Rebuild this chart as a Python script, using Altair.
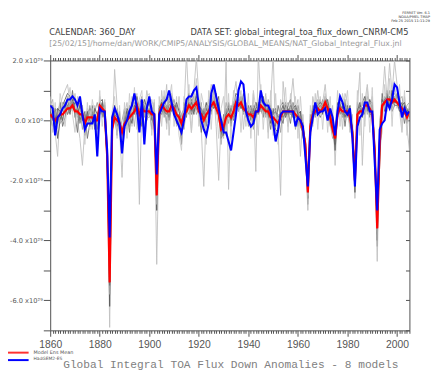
import altair as alt
import pandas as pd

years = list(range(1860, 2006))

# values in units of 1e28 (axis shows x10^29)
ens_mean = [2, 1, 0, 1, 2, 2, 3, 4, 4, 5,
            3, 3, 2, 2, -1, 1, 1, 1, 0, 0,
            5, 4, 3, -12, -54, -3, 1, 0, -1, -4,
            -1, 0, 1, 2, 3, 5, 2, 4, 3, 3,
            3, 2, 2, -25, 2, 5, 4, 3, 3, 5,
            4, 2, 1, -1, 2, 3, 5, 4, 5, 6,
            3, 2, 0, 2, 3, 5, 6, 4, 2, -3,
            -2, 1, 2, 1, 3, 6, 5, 6, 4, 3,
            2, 2, 1, 3, 3, 5, 4, 3, 3, 1,
            1, 0, -1, 1, 3, 3, 3, 3, 3, 2,
            1, 0, -3, -8, -24, -2, 2, 3, 4, 3,
            4, 6, 4, 1, -3, -6, 2, 4, 3, 3,
            3, 1, -4, -20, 2, 3, 3, 5, 5, 4,
            2, -10, -36, -8, 5, 6, 7, 7, 6, 7,
            6, 5, 4, 3, 1, 3]

hadgem = [5, 4, -5, 1, 2, 4, 5, 7, 7, 8,
          7, 5, 8, 2, -3, -1, -1, -1, 2, -12,
          4, 3, 3, -10, -39, 1, 4, 2, -1, -11,
          -2, 0, 3, 5, 9, 4, -4, 7, -8, 4,
          8, 3, 2, -18, 2, 4, 6, 7, 10, 6,
          2, 0, -2, -4, 0, 7, 8, 8, 10, 11,
          5, 0, -3, -5, -1, 9, 12, 8, 4, 0,
          -4, -4, -7, -10, -4, 2, 10, 13, 12, 3,
          0, -2, -1, 3, 3, 10, 6, 5, 5, 3,
          -1, -7, -3, 2, 3, 3, 3, 3, 3, -2,
          1, 0, -2, -12, -22, -4, 1, 6, 2, 3,
          3, 4, 0, 4, 1, -5, 3, 8, 6, 3,
          2, 4, -6, -22, -2, 1, 2, 6, 6, 3,
          3, -14, -30, -3, -1, 0, 6, 4, 7, 12,
          11, 6, 1, 4, 2, 3]

model_1 = [6, 3, -4, -12, 5, 8, 10, 12, 6, 3,
           9, 0, -6, -15, -2, 4, 2, -3, 5, -8,
           8, 2, 4, -14, -69, -6, 17, 5, -3, -19,
           2, 6, -2, 8, 4, 9, -28, 6, 2, 10,
           5, 7, 3, -48, -4, 10, 2, 12, -5, 9,
           6, -2, 8, -6, 3, 22, 5, -4, 10, 21,
           8, -3, -22, 4, 6, 12, 9, -2, -20, 0,
           -6, 20, -23, 3, 8, 13, 4, 10, -3, 6,
           4, -2, 9, -17, 22, 7, 2, 9, -4, 6,
           22, -6, -3, -25, 13, 4, -2, 6, 14, 3,
           7, -12, 2, -10, -30, -6, 8, 3, 10, 2,
           6, 12, 3, -2, 5, -15, 4, 8, -3, 9,
           6, -4, 2, -26, 5, 16, -15, 6, 12, 3,
           8, -12, -47, -10, 6, 18, 7, 19, 9, 20,
           12, 3, -4, 8, -2, -10]

model_2 = [4, 5, 2, -6, 0, 5, 7, 9, 8, 4,
           6, 5, 0, 3, -4, 2, 4, 3, -2, 1,
           6, 7, 2, -12, -62, -2, 3, -2, 1, -6,
           -3, 2, 4, 5, 8, 6, 2, 3, 7, 4,
           6, 0, 4, -30, 5, 3, 8, 4, 6, 7,
           2, 5, -2, -4, 5, 6, 8, 7, 3, 9,
           5, 4, 2, 6, 0, 8, 5, 7, 4, -6,
           -4, 3, 5, -2, 5, 9, 8, 4, 7, 2,
           5, 0, 3, 6, 4, 8, 6, 2, 5, -1,
           3, 4, -2, 5, 6, 2, 5, 7, 1, 4,
           3, -2, -4, -10, -26, 0, 4, 6, 2, 7,
           2, 8, 5, 3, -2, -8, 6, 2, 5, 1,
           4, 3, -5, -22, 4, 2, 6, 8, 3, 7,
           4, -9, -40, -5, 7, 5, 9, 4, 10, 6,
           8, 6, 2, 5, 4, 1]

model_3 = [1, -2, 3, 4, -1, 0, 4, 2, 6, 8,
           1, 6, 4, -3, 2, -2, 5, 0, 3, 6,
           2, 5, 1, -10, -58, -5, 4, 3, -4, 0,
           4, -3, 5, 0, 6, 3, 5, 8, 1, 6,
           2, 4, -1, -25, 3, 7, 1, 5, 0, 4,
           7, 3, 4, 2, -3, 4, 2, 6, 8, 2,
           4, 6, -3, 3, 7, 2, 8, 3, 6, -2,
           0, 4, -1, 5, 2, 6, 3, 8, 2, 5,
           -2, 4, -3, 2, 6, 3, 7, 4, 1, 5,
           -1, 3, 2, -4, 4, 6, 1, 4, 5, -3,
           5, 2, -6, -6, -22, -3, 5, 1, 6, 4,
           7, 3, 6, -1, -6, -5, 3, 6, 1, 5,
           1, 4, -3, -18, 6, 4, 2, 3, 8, 5,
           1, -11, -35, -12, 3, 8, 5, 10, 4, 8,
           5, 7, 8, 2, 5, 6]

model_4 = [-3, 4, -1, 2, 6, -2, 1, 7, 3, 10,
           2, -4, 6, 0, 3, -6, -1, 5, -3, 2,
           4, 1, 6, -11, -55, 0, 2, -5, 3, -8,
           1, 3, -4, 6, 2, 8, 4, -2, 5, 0,
           4, -3, 6, -20, 0, 6, 5, -1, 8, 3,
           5, -1, 2, -8, 6, 1, 9, 3, 6, 4,
           2, -4, 4, -2, 5, 3, 6, 9, 1, -5,
           2, -3, 6, 2, 0, 5, 7, 4, 9, 1,
           3, 5, -1, 6, 2, 4, 1, 6, 2, -3,
           4, -2, 5, 1, -1, 5, 3, -1, 6, 2,
           -2, 3, -1, -12, -20, 2, -1, 5, 3, 1,
           3, 5, 2, 4, -3, -3, 1, 5, 6, -2,
           5, 0, -2, -20, -1, 5, 4, 2, 6, 1,
           5, -8, -38, -3, 9, 3, 6, 8, 3, 5,
           9, 4, 6, -1, 3, 2]

model_5 = [8, -4, 6, -3, 9, 4, -2, 6, 11, 2,
           -4, 8, 2, 5, -8, 6, -3, 7, 2, -5,
           10, -2, 7, -13, -50, 3, 8, -6, 5, -10,
           6, -6, 9, -2, 11, -3, 7, 10, -5, 8,
           9, -5, 7, -22, 8, -2, 10, -3, 7, 12,
           -2, 8, -5, -10, 8, 3, 12, -4, 7, 14,
           -2, 9, 5, -8, 10, -3, 11, 6, -6, 4,
           8, -5, 9, -6, 10, 2, 11, -4, 8, -2,
           9, -6, 10, 4, -5, 12, -3, 8, -6, 10,
           -5, 9, -8, 7, 3, 11, -4, 9, 3, 8,
           -6, 8, -3, -14, -25, 5, -2, 9, -3, 8,
           -3, 9, -4, 8, -5, -4, 10, -2, 9, 4,
           10, -3, -6, -15, 10, -5, 9, -2, 11, -4,
           11, -10, -30, -8, -4, 12, 3, 14, -2, 13,
           4, 12, -3, 10, -5, 6]

model_6 = [3, 1, -2, 4, 3, 0, 6, 5, 2, 7,
           4, 2, 5, 1, -2, 3, 0, -1, 4, 2,
           3, 6, 0, -14, -48, -4, 5, 2, 0, -3,
           -2, 4, 2, -1, 5, 4, 0, 6, 3, 5,
           7, 3, 1, -18, 4, 6, 3, 2, 5, 6,
           3, 6, 3, 0, 2, 5, 4, 6, 2, 8,
           6, 3, 1, 4, 2, 7, 4, 5, 8, -4,
           -5, 2, 4, 0, 3, 7, 6, 5, 3, 4,
           1, 3, 2, 4, 5, 6, 8, 3, 4, 2,
           0, -3, -4, 3, 5, 1, 4, 2, 4, 5,
           2, 3, -5, -8, -18, -4, 3, 2, 5, 6,
           5, 4, 7, 2, -1, -10, 2, 5, 4, 6,
           2, 5, -4, -24, 3, 6, 1, 7, 4, 3,
           3, -13, -33, -15, 5, 7, 8, 5, 9, 6,
           6, 3, 5, 6, 2, 4]

model_7 = [5, 7, -3, 0, 2, 6, 3, 8, 5, 6,
           7, 1, 3, 5, -5, 0, 3, 4, -1, -2,
           6, 3, 5, -13, -45, -3, 0, 4, -2, -5,
           3, 1, -1, 4, -2, 7, 3, 5, 6, 1,
           1, 5, 2, -28, -2, 4, 6, 7, 2, 8,
           4, 3, -3, 2, 4, 7, 3, 9, 4, 6,
           5, 1, -1, 5, 3, 6, 10, 2, 5, -8,
           0, 6, 2, 3, 6, 8, 3, 7, 5, 2,
           4, 1, 5, 2, 6, 3, 5, 1, 7, 3,
           2, 1, 0, 4, 2, 4, 6, 2, 5, 3,
           4, -1, -2, -9, -28, -2, 1, 4, 7, 3,
           6, 7, 3, -1, -4, -2, 5, 3, 2, 7,
           3, -2, -3, -19, 2, 4, 5, 7, 2, 6,
           6, -10, -42, 0, 6, 4, 10, 6, 8, 9,
           7, 8, 2, 3, -1, 5]

model_8 = [2, 0, 4, -1, 3, 4, 5, 2, 4, 6,
           3, 4, -1, 2, 0, 2, -2, 2, 1, -3,
           4, 2, 1, -12, -47, -2, 2, 1, -2, -4,
           -1, 2, 3, 1, 4, 2, 4, 1, 4, 2,
           3, 1, -2, -15, 3, 2, 5, 4, 1, 6,
           5, 1, 2, -2, 1, 4, 6, 2, 5, 7,
           4, 2, 3, 1, 4, 5, 4, 6, 3, -3,
           -2, 2, 1, 4, 1, 5, 6, 5, 4, 3,
           3, 1, 4, 1, 4, 5, 3, 4, 2, 4,
           2, 3, 1, 2, 1, 3, 2, 5, 3, 1,
           2, 1, -2, -7, -24, -1, 3, 2, 4, 5,
           4, 5, 4, 1, -2, -3, 3, 4, 2, 3,
           4, 2, -4, -17, 3, 3, 4, 5, 6, 2,
           2, -9, -28, -7, 4, 6, 7, 6, 7, 5,
           5, 6, 3, 4, 2, 3]

gray_names = ["m1", "m2", "m3", "m4", "m5", "m6", "m7", "m8"]
gray_series = [model_1, model_2, model_3, model_4, model_5, model_6, model_7, model_8]
gray_colors = ["#c0c0c0", "#5a5a5a", "#a0a0a0", "#727272", "#cacaca", "#626262", "#adadad", "#808080"]

y_ticks = list(range(-70, 21, 10))

rows = []
for name, vals in zip(gray_names, gray_series):
    for yr, v in zip(years, vals):
        rows.append({"year": yr, "value": v, "series": name})
gray_df = pd.DataFrame(rows)
red_df = pd.DataFrame({"year": years, "value": ens_mean})
blue_df = pd.DataFrame({"year": years, "value": hadgem})

W, H = 366, 275
AX = "#505050"
xscale = alt.Scale(domain=[1860, 2005], nice=False, zero=False)
yscale = alt.Scale(domain=[-70, 20], nice=False, zero=False)
major = {"condition": {"test": "datum.value % 20 === 0", "value": 6}, "value": 3}

x_bottom = alt.Axis(orient="bottom", values=years, format="d",
                    labelExpr="datum.value % 20 === 0 ? datum.label : ''",
                    labelOverlap=False, labelFlush=False,
                    labelFont="Liberation Sans", labelFontSize=10.5, labelColor="#555555",
                    labelPadding=3, tickSize=major, tickColor=AX, domainColor=AX,
                    grid=False, title=None)
x_top = alt.Axis(orient="top", values=years, labels=False, tickSize=major,
                 tickColor=AX, domainColor=AX, grid=False, title=None)
y_left = alt.Axis(orient="left", values=y_ticks,
                  labelExpr="datum.value % 20 === 0 ? (datum.value === 0 ? '0.0 x10\u2070' : (datum.value < 0 ? '-' : '') + format(abs(datum.value)/10, '.1f') + ' x10\u00b2\u2079') : ''",
                  labelOverlap=False, labelFlush=False,
                  labelFont="DejaVu Sans", labelFontSize=6.8, labelColor="#555555",
                  labelPadding=1, tickSize=7, tickColor=AX, domainColor=AX,
                  grid=False, title=None)
y_right = alt.Axis(orient="left", offset=-W, values=y_ticks, labels=False, tickSize=4,
                   tickColor=AX, domainColor=AX, grid=False, title=None)

gray = alt.Chart(gray_df).mark_line(clip=True, strokeWidth=0.9).encode(
    x=alt.X("year:Q", scale=xscale, axis=x_bottom),
    y=alt.Y("value:Q", scale=yscale, axis=y_left),
    color=alt.Color("series:N", scale=alt.Scale(domain=gray_names, range=gray_colors), legend=None),
)
red = alt.Chart(red_df).mark_line(clip=True, strokeWidth=2.2, color="#ff0000").encode(
    x=alt.X("year:Q", scale=xscale, axis=x_top),
    y=alt.Y("value:Q", scale=yscale, axis=y_right),
)
blue = alt.Chart(blue_df).mark_line(clip=True, strokeWidth=2.1, color="#0000ff").encode(
    x=alt.X("year:Q", scale=xscale, axis=None),
    y=alt.Y("value:Q", scale=yscale, axis=None),
)

one = pd.DataFrame({"k": [0]})


def label(txt, x, y, size, color="#404040", font="DejaVu Sans", align="left"):
    return alt.Chart(one).mark_text(text=txt, font=font, fontSize=size, color=color,
                                    align=align, baseline="middle").encode(
        x=alt.value(x), y=alt.value(y))


texts = [
    label("FERRET Ver. 6.1", 387, -48, 3.6, "#333333", align="right"),
    label("NOAA/PMEL TMAP", 387, -44, 3.6, "#333333", align="right"),
    label("Feb 25 2015 11:11:29", 387, -40, 3.6, "#333333", align="right"),
    label("CALENDAR: 360_DAY", -1, -29, 8.4),
    label("DATA SET: global_integral_toa_flux_down_CNRM-CM5", 143, -29, 8.4),
    label("[25/02/15]/home/dan/WORK/CMIP5/ANALYSIS/GLOBAL_MEANS/NAT_Global_Integral_Flux.jnl",
          -1, -16.5, 7.9, "#9a9a9a"),
    label("Model Ens Mean", -17, 297.5, 5, "#555555"),
    label("HadGEM2-ES", -17, 304.5, 4.5, "#555555"),
]

leg_red = alt.Chart(one).mark_rule(color="#ff3030", strokeWidth=2).encode(
    x=alt.value(-43), x2=alt.value(-22), y=alt.value(297.7))
leg_blue = alt.Chart(one).mark_rule(color="#0000ff", strokeWidth=2).encode(
    x=alt.value(-43), x2=alt.value(-22), y=alt.value(305.3))

title = label("Global Integral TOA Flux Down Anomalies - 8 models", 184, 310, 11.4,
              "#808080", font="Liberation Mono", align="center")

chart = alt.layer(gray, red, blue, leg_red, leg_blue, *texts, title).resolve_axis(
    x="independent", y="independent"
).properties(
    width=W, height=H,
    padding={"left": 43, "top": 50, "right": 23, "bottom": 40},
    autosize=alt.AutoSizeParams(type="none"),
    background="white",
).configure_view(stroke=None)

chart.save("out.html", embed_options={"renderer": "svg", "actions": False})
